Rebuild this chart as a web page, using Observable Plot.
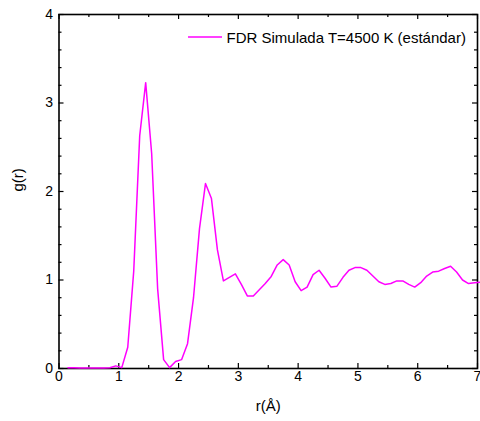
<!DOCTYPE html>
<html>
<head>
<meta charset="utf-8">
<script src="https://cdn.jsdelivr.net/npm/d3@7"></script>
<script src="https://cdn.jsdelivr.net/npm/@observablehq/plot@0.6"></script>
<style>
  html, body { margin: 0; padding: 0; background: #fff; overflow: hidden; }
  #chart { width: 480px; height: 421px; overflow: hidden; }
</style>
</head>
<body>
<div id="chart"></div>
<script>
const seriesName = "FDR Simulada T=4500 K (estándar)";
const r = [0.15,0.25,0.35,0.45,0.55,0.65,0.75,0.85,0.95,1.05,1.15,1.25,1.35,1.45,1.55,1.65,1.75,1.85,1.95,2.05,2.15,2.25,2.35,2.45,2.55,2.65,2.75,2.85,2.95,3.05,3.15,3.25,3.35,3.45,3.55,3.65,3.75,3.85,3.95,4.05,4.15,4.25,4.35,4.45,4.55,4.65,4.75,4.85,4.95,5.05,5.15,5.25,5.35,5.45,5.55,5.65,5.75,5.85,5.95,6.05,6.15,6.25,6.35,6.45,6.55,6.65,6.75,6.85,6.95,7.05];
const g = [0.008,0.008,0.006,0.005,0.006,0.007,0.005,0.008,0.03,0.01,0.24,1.1,2.63,3.23,2.43,0.90,0.10,0.01,0.08,0.10,0.28,0.80,1.58,2.09,1.92,1.34,0.99,1.03,1.07,0.95,0.82,0.82,0.89,0.96,1.04,1.17,1.23,1.17,0.98,0.88,0.92,1.06,1.11,1.02,0.92,0.93,1.03,1.11,1.14,1.14,1.11,1.045,0.98,0.95,0.96,0.99,0.99,0.95,0.92,0.97,1.045,1.09,1.10,1.13,1.155,1.09,1.00,0.96,0.97,0.975];
const xMajor = [0,1,2,3,4,5,6,7];
const xMinor = [0.5,1.5,2.5,3.5,4.5,5.5,6.5];
const yMajor = [0,1,2,3,4];
const yMinor = [0.2,0.4,0.6,0.8,1.2,1.4,1.6,1.8,2.2,2.4,2.6,2.8,3.2,3.4,3.6,3.8];
const xLabel = "r(Å)";
const yLabel = "g(r)";

const data = r.map((v, i) => ({r: v, g: g[i]}));

const W = 480, H = 421;
const mL = 58.5, mR = 3, mT = 14, mB = 53;
const iw = W - mL - mR, ih = H - mT - mB;
const font = "'Liberation Sans', Arial, sans-serif";

const legendMark = (index, scales, values, dims) => {
  const ns = "http://www.w3.org/2000/svg";
  const gEl = document.createElementNS(ns, "g");
  const line = document.createElementNS(ns, "line");
  line.setAttribute("x1", 188); line.setAttribute("x2", 222);
  line.setAttribute("y1", 37); line.setAttribute("y2", 37);
  line.setAttribute("stroke", "#ff00ff"); line.setAttribute("stroke-width", 1.5);
  gEl.appendChild(line);
  const t = document.createElementNS(ns, "text");
  t.setAttribute("x", 226.5); t.setAttribute("y", 42.5);
  t.setAttribute("text-anchor", "start");
  t.setAttribute("font-size", 15); t.setAttribute("font-family", font);
  t.setAttribute("fill", "#000");
  t.textContent = seriesName;
  gEl.appendChild(t);
  return gEl;
};

const chart = Plot.plot({
  width: W, height: H,
  marginLeft: mL, marginRight: mR, marginTop: mT, marginBottom: mB,
  style: {fontFamily: font, fontSize: "14px", color: "#000", background: "#fff"},
  x: {domain: [0, 7]},
  y: {domain: [0, 4]},
  marks: [
    // ticks (inward) on all four sides
    Plot.tickX(xMajor, {x: d => d, insetTop: ih - 5, stroke: "#000", strokeWidth: 1.2}),
    Plot.tickX(xMajor, {x: d => d, insetBottom: ih - 5, stroke: "#000", strokeWidth: 1.2}),
    Plot.tickX(xMinor, {x: d => d, insetTop: ih - 3, stroke: "#000", strokeWidth: 1.2}),
    Plot.tickX(xMinor, {x: d => d, insetBottom: ih - 3, stroke: "#000", strokeWidth: 1.2}),
    Plot.tickY(yMajor, {y: d => d, insetRight: iw - 5, stroke: "#000", strokeWidth: 1.2}),
    Plot.tickY(yMajor, {y: d => d, insetLeft: iw - 5, stroke: "#000", strokeWidth: 1.2}),
    Plot.tickY(yMinor, {y: d => d, insetRight: iw - 3, stroke: "#000", strokeWidth: 1.2}),
    Plot.tickY(yMinor, {y: d => d, insetLeft: iw - 3, stroke: "#000", strokeWidth: 1.2}),
    Plot.axisX({ticks: xMajor, tickSize: 0, tickPadding: 3, label: null, fontSize: 14, tickFormat: d3.format("d")}),
    Plot.axisY({ticks: yMajor, tickSize: 0, tickPadding: 6, label: null, fontSize: 14, tickFormat: d3.format("d")}),
    Plot.text([xLabel], {frameAnchor: "bottom", dy: 38, text: d => d, fontSize: 15, lineAnchor: "middle"}),
    Plot.text([yLabel], {frameAnchor: "left", dx: -41, rotate: -90, text: d => d, fontSize: 15, lineAnchor: "middle"}),
    Plot.frame({stroke: "#000", strokeWidth: 1.6}),
    Plot.line(data, {x: "r", y: "g", stroke: "#ff00ff", strokeWidth: 1.5}),
    legendMark
  ]
});
document.getElementById("chart").appendChild(chart);
</script>
</body>
</html>
